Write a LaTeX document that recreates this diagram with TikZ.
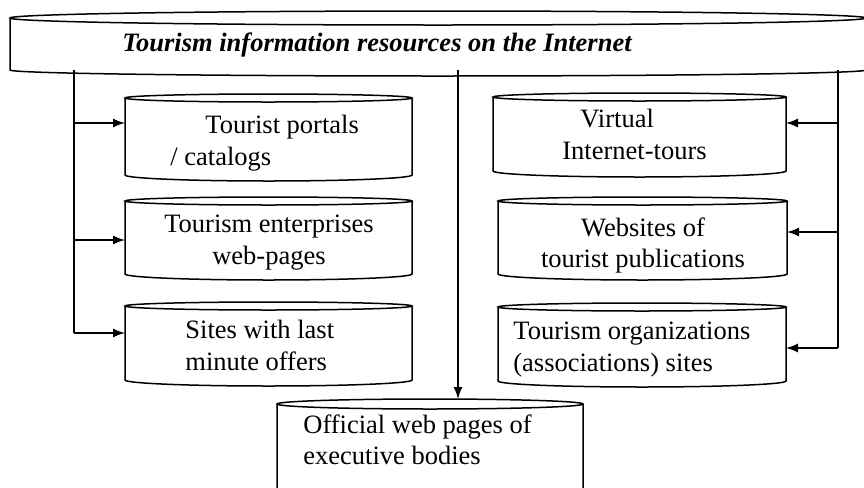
\documentclass[tikz,border=0pt]{standalone}
\usepackage{fontspec}
\setmainfont{Liberation Serif}
\usetikzlibrary{arrows.meta,fit,calc}

\begin{document}
\begin{tikzpicture}[x=0.5pt,y=-0.5pt,
body/.style={inner sep=0pt,outer sep=0pt},
tank/.style={line width=0.75pt},
lbl/.style={inner sep=0pt,font=\fontsize{13.25}{15.75}\selectfont},
arr/.style={-{Latex[length=6pt,width=4.5pt]},line width=0.7pt},
trunk/.style={line width=0.7pt}
]
\useasboundingbox (0,0) rectangle (864,488);
% tank bodies: from the centre of the rim down to the lower corners
\node[body,fit={(10,18)(866,70)}] (top) {};
\node[body,fit={(125,98)(412,175)}] (pl) {};
\node[body,fit={(125,201)(412,274)}] (ent) {};
\node[body,fit={(125,306)(412,380)}] (lmo) {};
\node[body,fit={(493,97)(786,171)}] (vt) {};
\node[body,fit={(498,201)(787,274)}] (pub) {};
\node[body,fit={(498,307)(786,381)}] (org) {};
\node[body,fit={(277,404)(583,540)}] (gov) {};
% outline of each tank: sides, lower arc and the rim ellipse
\foreach \tk/\ry in {top/3.5pt,pl/2pt,ent/2pt,lmo/2pt,vt/2pt,pub/2pt,org/2pt,gov/2.5pt}
  \draw[tank] let \p1=(\tk.north west),\p2=(\tk.south east),\n1={(\x2-\x1)/2} in
    (\p1) -- (\x1,\y2) arc[start angle=180,end angle=360,x radius=\n1,y radius=3pt] -- (\x2,\y1)
    (\tk.north) ellipse[x radius=\n1,y radius=\ry];

\node[lbl,anchor=base west,font=\fontsize{13.25}{15.75}\selectfont\bfseries\itshape] (title) at (122,51) {Tourism information resources on the Internet};
\node[lbl,anchor=north west,align=left] (plt) at (170,115) {\hspace*{17.5pt}Tourist portals\\/ catalogs};
\node[lbl,anchor=north,align=center] (entt) at (269,215) {Tourism enterprises\\web-pages};
\node[lbl,anchor=north west,align=left] (lmot) at (185,320) {Sites with last\\minute offers};
\node[lbl,anchor=north west,align=left] (vtt) at (562,109) {\hspace*{9pt}Virtual\\Internet-tours};
\node[lbl,anchor=north,align=center] (pubt) at (643,217) {Websites of\\tourist publications};
\node[lbl,anchor=north west,align=left] (orgt) at (513,322) {Tourism organizations\\(associations) sites};
\node[lbl,anchor=north west,align=left] (govt) at (303,414) {Official web pages of\\executive bodies};

% branching lines
\coordinate (l1) at (74,123); \coordinate (l2) at (74,240); \coordinate (l3) at (74,333);
\coordinate (r1) at (838,123); \coordinate (r2) at (838,232); \coordinate (r3) at (838,348);
\coordinate (m) at (458,399);
\draw[trunk] (top.south -| l3) -- (l3);
\draw[trunk] (top.south -| r3) -- (r3);
\draw[arr] (l1) -- (l1 -| pl.west);
\draw[arr] (l2) -- (l2 -| ent.west);
\draw[arr] (l3) -- (l3 -| lmo.west);
\draw[arr] (r1) -- (r1 -| vt.east);
\draw[arr] (r2) -- (r2 -| pub.east);
\draw[arr] (r3) -- (r3 -| org.east);
\draw[arr] (top.south -| m) -- (m);
\end{tikzpicture}
\end{document}
